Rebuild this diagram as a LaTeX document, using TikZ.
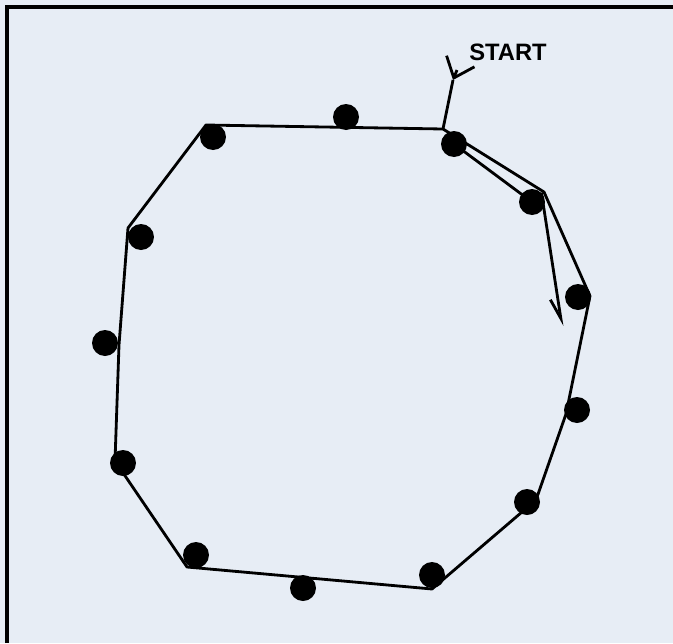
\documentclass[tikz,border=0pt]{standalone}
\usepackage{fontspec}
\setmainfont{Liberation Sans}
\usepackage{tikz}
\usetikzlibrary{arrows.meta,positioning}
\definecolor{paper}{RGB}{231,237,245}
\tikzset{
  dot/.style={
    circle,
    fill=black,
    inner sep=0pt,
    minimum size=0.52cm
  },
  hull/.style={
    line width=1.6pt,
    line join=round
  },
  arrow/.style={
    hull,
    -{Straight Barb[right, length=0.4cm, width=0.3cm]}
  },
  startarrow/.style={
    hull,
    -{Straight Barb[length=0.36cm, width=0.6cm]}
  },
  starttext/.style={
    inner sep=0pt,
    font=\fontsize{13.5}{15}\selectfont\bfseries
  }
}

\begin{document}
\begin{tikzpicture}[x=0.02cm, y=-0.02cm]

\fill[paper] (0,0) rectangle (673,643);
\useasboundingbox (0,0) rectangle (673,643);
\draw[line width=2pt] (7,643) -- (7,7) -- (673,7);

% the points
\node[dot] (p1) at (346,117) {};
\node[dot] (p2) at (213,137) {};
\node[dot] (p3) at (454,144) {};
\node[dot] (p4) at (532,202) {};
\node[dot] (p5) at (141,237) {};
\node[dot] (p6) at (578,297) {};
\node[dot] (p7) at (105,343) {};
\node[dot] (p8) at (577,410) {};
\node[dot] (p9) at (123,463) {};
\node[dot] (p10) at (527,502) {};
\node[dot] (p11) at (196,555) {};
\node[dot] (p12) at (432,575) {};
\node[dot] (p13) at (303,588) {};

% corners of the hull
\coordinate (h1) at (443,129);
\coordinate (h2) at (544,192);
\coordinate (h3) at (590,296);
\coordinate (h4) at (566,414);
\coordinate (h5) at (536,500);
\coordinate (h6) at (432,589);
\coordinate (h7) at (187,567);
\coordinate (h8) at (115,461);
\coordinate (h9) at (119,345);
\coordinate (h10) at (128,228);
\coordinate (h11) at (206,125);

\draw[hull] (h1) -- (h2) -- (h3) -- (h4) -- (h5) -- (h6) -- (h7)
  -- (h8) -- (h9) -- (h10) -- (h11) -- cycle;

% start
\coordinate (s0) at (457,70);
\coordinate (s1) at (453,80);
\node[starttext, anchor=west] (start) at (469,52) {START};
\draw[startarrow] (s0) -- (s1);
\draw[hull] (s1) -- (h1);

% first step
\coordinate (tip) at (562,326);
\draw[hull] (p3.center) -- (p4.center);
\draw[arrow] (p4.north east) -- (tip);

\end{tikzpicture}
\end{document}
